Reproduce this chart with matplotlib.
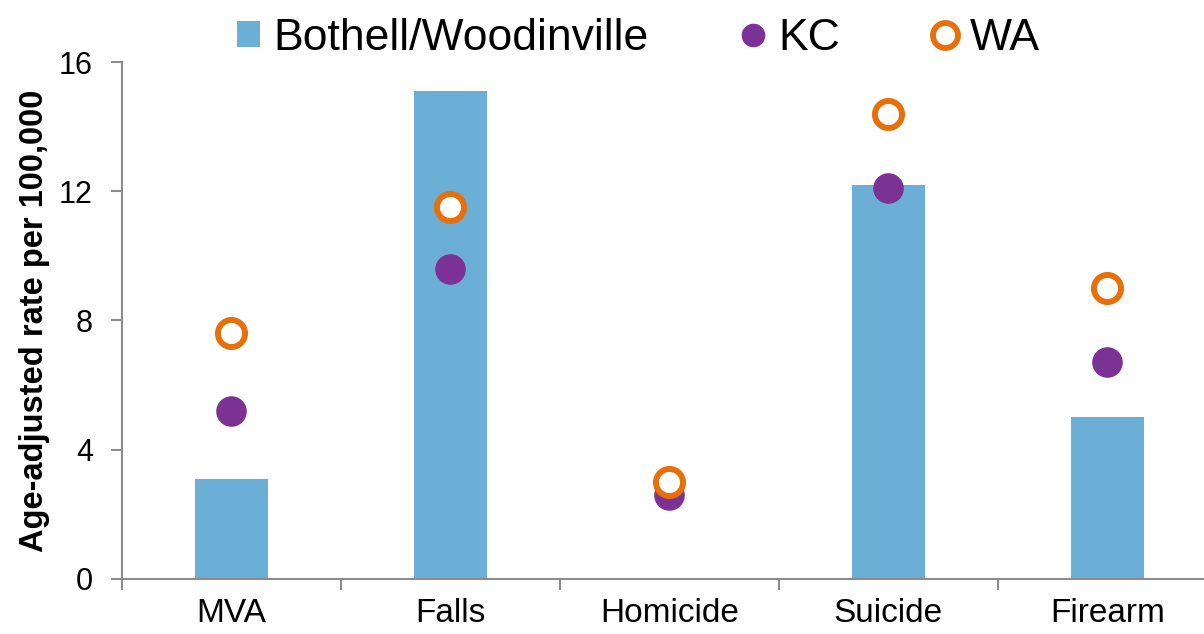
import matplotlib

matplotlib.use("Agg")
import matplotlib.pyplot as plt
import numpy as np
from matplotlib.lines import Line2D
from matplotlib.patches import Patch

plt.rcParams["font.family"] = ["Liberation Sans", "DejaVu Sans"]

categories = ["MVA", "Falls", "Homicide", "Suicide", "Firearm"]
bothell = [3.1, 15.1, 0.0, 12.2, 5.0]
kc = [5.2, 9.6, 2.6, 12.1, 6.7]
wa = [7.6, 11.5, 3.0, 14.4, 9.0]
y_ticks = [0, 4, 8, 12, 16]

BAR_COLOR = "#6baed6"
KC_COLOR = "#7b3294"
WA_COLOR = "#e8700a"
AXIS_GRAY = "#8c8c8c"

fig = plt.figure(figsize=(12.04, 6.34), dpi=100)
ax = fig.add_axes([0.1013, 0.0868, 0.9095, 0.8154])

x = np.arange(len(categories))
ax.bar(x, bothell, width=0.335, color=BAR_COLOR, zorder=2)
ax.plot(x, kc, "o", ls="none", ms=21, color=KC_COLOR, mec=KC_COLOR, zorder=3)
ax.plot(x, wa, "o", ls="none", ms=19.5, mfc="white", mec=WA_COLOR, mew=4.3, zorder=4)

ax.set_xlim(-0.5, len(categories) - 0.5)
ax.set_ylim(0, 16)
ax.set_yticks(y_ticks)
ax.set_xticks(x)
ax.set_xticklabels(categories, fontsize=24)
ax.set_xticks(np.arange(len(categories) + 1) - 0.5, minor=True)
ax.tick_params(axis="x", which="major", length=0, pad=14)
ax.tick_params(axis="x", which="minor", length=8, width=1.5, color=AXIS_GRAY)
ax.tick_params(axis="y", labelsize=22, length=8, width=1.5, color=AXIS_GRAY, pad=13)
ax.set_ylabel("Age-adjusted rate per 100,000", fontsize=23.5, fontweight="bold", labelpad=6)

for side in ["top", "right"]:
    ax.spines[side].set_visible(False)
for side in ["left", "bottom"]:
    ax.spines[side].set_color(AXIS_GRAY)
    ax.spines[side].set_linewidth(1.5)

handles = [
    Patch(facecolor=BAR_COLOR, edgecolor="none"),
    Line2D([], [], ls="none", marker="o", ms=16, color=KC_COLOR),
    Line2D([], [], ls="none", marker="o", ms=18, mfc="white", mec=WA_COLOR, mew=4.2),
]
fig.legend(handles, ["Bothell/Woodinville", "KC", "WA"], loc="upper center",
           bbox_to_anchor=(0.53, 1.035), ncol=3, frameon=False, fontsize=32,
           handlelength=0.52, handleheight=0.52, handletextpad=0.3, columnspacing=2.1)

fig.savefig("out.png", dpi=100)
